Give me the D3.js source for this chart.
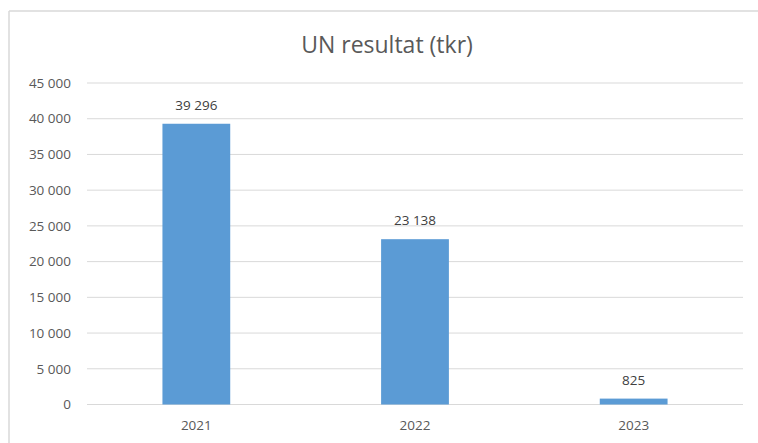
<!DOCTYPE html>
<html>
<head>
<meta charset="utf-8">
<script src="https://cdn.jsdelivr.net/npm/d3@7"></script>
<style>
  body { margin: 0; background: #fff; }
  text { font-family: "Open Sans", "Noto Sans", sans-serif; }
</style>
</head>
<body>
<div id="chart"></div>
<script>
// chart data
const years = ["2021", "2022", "2023"];
const values = [39296, 23138, 825];
const yTicks = [0, 5000, 10000, 15000, 20000, 25000, 30000, 35000, 40000, 45000];
const title = "UN resultat (tkr)";

const W = 758, H = 443;
const margin = {top: 83, right: 15, bottom: 38.5, left: 87};

const svg = d3.select("#chart").append("svg")
    .attr("width", W)
    .attr("height", H);

// chart frame (only top and left edges visible in the crop)
svg.append("line").attr("x1", 9).attr("x2", W).attr("y1", 11).attr("y2", 11)
    .attr("stroke", "#d9d9d9").attr("stroke-width", 1.5);
svg.append("line").attr("x1", 9).attr("x2", 9).attr("y1", 11).attr("y2", H)
    .attr("stroke", "#d9d9d9").attr("stroke-width", 1.5);

const x = d3.scaleBand()
    .domain(years)
    .range([margin.left, W - margin.right])
    .paddingInner(0.69)
    .paddingOuter(0.345);

const y = d3.scaleLinear()
    .domain([0, 45000])
    .range([H - margin.bottom, margin.top]);

const fmt = d => d3.format(",")(d).replace(/,/g, " ");

// gridlines
svg.append("g")
    .selectAll("line")
    .data(yTicks)
    .enter()
    .append("line")
    .attr("x1", margin.left)
    .attr("x2", W - margin.right)
    .attr("y1", d => y(d))
    .attr("y2", d => y(d))
    .attr("stroke", "#d9d9d9")
    .attr("stroke-width", 1);

// y tick labels
svg.append("g")
    .selectAll("text")
    .data(yTicks)
    .enter()
    .append("text")
    .attr("x", 71)
    .attr("y", d => y(d))
    .attr("dy", "0.35em")
    .attr("text-anchor", "end")
    .attr("font-size", 13.5)
    .attr("fill", "#595959")
    .text(fmt);

// bars
svg.append("g")
    .selectAll("rect")
    .data(values)
    .enter()
    .append("rect")
    .attr("x", (d, i) => x(years[i]))
    .attr("width", x.bandwidth())
    .attr("y", d => y(d))
    .attr("height", d => y(0) - y(d))
    .attr("fill", "#5b9bd5");

// value labels
svg.append("g")
    .selectAll("text")
    .data(values)
    .enter()
    .append("text")
    .attr("x", (d, i) => x(years[i]) + x.bandwidth() / 2)
    .attr("y", d => y(d) - 14)
    .attr("text-anchor", "middle")
    .attr("font-size", 13.5)
    .attr("fill", "#404040")
    .text(fmt);

// x axis labels
svg.append("g")
    .selectAll("text")
    .data(years)
    .enter()
    .append("text")
    .attr("x", d => x(d) + x.bandwidth() / 2)
    .attr("y", 425)
    .attr("dy", "0.35em")
    .attr("text-anchor", "middle")
    .attr("font-size", 13.5)
    .attr("fill", "#595959")
    .text(d => d);

// title
svg.append("text")
    .attr("x", 387)
    .attr("y", 53)
    .attr("text-anchor", "middle")
    .attr("font-size", 23)
    .attr("fill", "#595959")
    .text(title);
</script>
</body>
</html>
